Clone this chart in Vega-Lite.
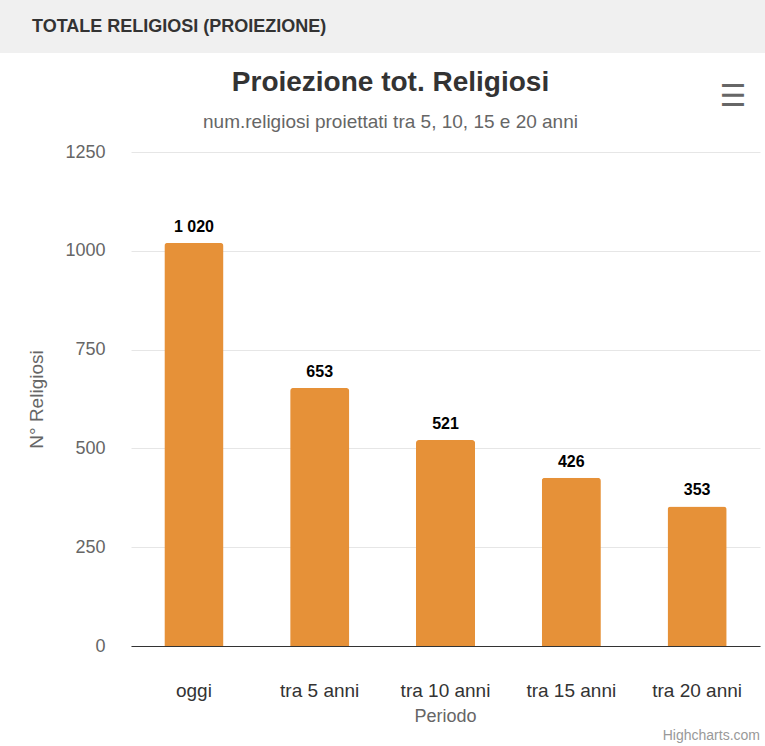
{
  "$schema": "https://vega.github.io/schema/vega-lite/v6.json",
  "padding": 0,
  "background": "#ffffff",
  "spacing": 16,
  "config": {
    "font": "Liberation Sans",
    "view": {"stroke": null},
    "locale": {"number": {"decimal": ",", "thousands": " ", "grouping": [3], "currency": ["", " €"]}}
  },
  "title": {"text": "Highcharts.com", "orient": "bottom", "anchor": "end", "frame": "bounds", "fontSize": 14, "fontWeight": "normal", "color": "#999999", "offset": 4, "dx": -5},
  "vconcat": [
    {
      "width": 765,
      "height": 53,
      "data": {"values": [{"band": "header"}]},
      "mark": {"type": "rect", "color": "#f0f0f0"},
      "title": {"text": "TOTALE RELIGIOSI (PROIEZIONE)", "anchor": "start", "frame": "group", "orient": "top", "offset": -36, "dx": 32, "fontSize": 18, "fontWeight": "bold", "color": "#333333"}
    },
    {
      "width": 765,
      "height": 494,
      "title": {"text": "Proiezione tot. Religiosi", "subtitle": "num.religiosi proiettati tra 5, 10, 15 e 20 anni", "fontSize": 28, "fontWeight": "bold", "color": "#333333", "subtitleFontSize": 19, "subtitleColor": "#666666", "subtitlePadding": 16, "offset": -50, "anchor": "middle", "frame": "group", "dx": 8},
      "data": {"values": [
        {"periodo": "oggi", "religiosi": 1020},
        {"periodo": "tra 5 anni", "religiosi": 653},
        {"periodo": "tra 10 anni", "religiosi": 521},
        {"periodo": "tra 15 anni", "religiosi": 426},
        {"periodo": "tra 20 anni", "religiosi": 353}
      ]},
      "layer": [
        {"mark": {"type": "bar", "color": "#E69138", "cornerRadiusTopLeft": 3, "cornerRadiusTopRight": 3},
          "encoding": {
            "x": {"field": "periodo", "type": "nominal", "sort": null, "scale": {"range": [131, 760], "paddingInner": 0.53, "paddingOuter": 0.265},
              "axis": {"title": "Periodo", "labelAngle": 0, "labelFontSize": 19, "labelColor": "#333333", "labelPadding": 35, "ticks": false, "domainColor": "#333333", "titleFontSize": 18, "titleColor": "#666666", "titleFontWeight": "normal", "titlePadding": 7, "titleX": 445}},
            "y": {"field": "religiosi", "type": "quantitative", "scale": {"domain": [0, 1250], "nice": false},
              "axis": {"title": "N° Religiosi", "offset": -131, "values": [0, 250, 500, 750, 1000, 1250], "format": "d", "domain": false, "ticks": false, "gridColor": "#e6e6e6", "labelFontSize": 18, "labelColor": "#666666", "labelPadding": 26, "titleFontSize": 19, "titleColor": "#666666", "titleFontWeight": "normal", "titlePadding": 18}}
          }},
        {"mark": {"type": "text", "fontSize": 16, "fontWeight": "bold", "color": "#000000", "baseline": "alphabetic", "dy": -11},
          "encoding": {
            "x": {"field": "periodo", "type": "nominal", "sort": null},
            "y": {"field": "religiosi", "type": "quantitative"},
            "text": {"field": "religiosi", "type": "quantitative", "format": ",d"}}},
        {"data": {"values": [{"menu": "☰"}]},
          "mark": {"type": "text", "fontSize": 30, "fontWeight": "bold", "color": "#666666", "font": "DejaVu Sans", "baseline": "middle", "xOffset": 36},
          "encoding": {"x": {"datum": "tra 20 anni"}, "y": {"datum": 1389}, "text": {"field": "menu", "type": "nominal"}}}
      ]
    }
  ]
}
